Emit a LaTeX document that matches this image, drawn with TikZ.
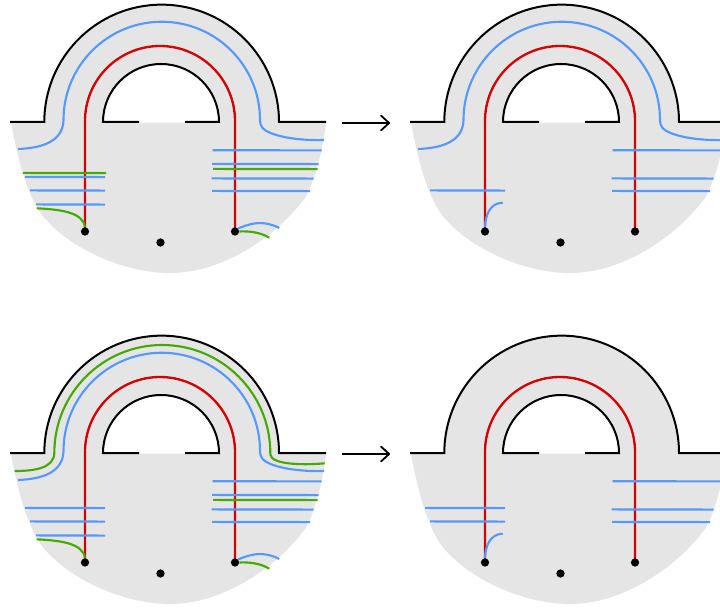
\documentclass[tikz,border=0pt]{standalone}
\usetikzlibrary{arrows.meta}
\definecolor{regiongray}{HTML}{E5E5E5}
\definecolor{strandblue}{HTML}{5599FF}
\definecolor{strandred}{HTML}{D40000}
\definecolor{strandgreen}{HTML}{44AA00}
\def\unitpx{0.75pt}
\tikzset{
  blackline/.style={draw=black,line width=1.5pt},
  redline/.style={draw=strandred,line width=1.75pt},
  blueline/.style={draw=strandblue,line width=1.6pt},
  greenline/.style={draw=strandgreen,line width=1.6pt},
  puncture/.style={circle,fill=black,inner sep=0pt,minimum size=6.2pt},
  movearrow/.style={draw=black,line width=1.35pt,-{Straight Barb[length=6pt,width=11pt,round]}}
}
% base surface, boundary, red arc, marked points
\newcommand{\basepanel}{%
  \fill[regiongray] (11,-122.7) .. controls (18,-160) and (27,-195) .. (42,-215)
    .. controls (65,-245) and (120,-273) .. (170,-273)
    .. controls (222,-273) and (275,-238) .. (305,-198)
    .. controls (315,-180) and (322,-155) .. (326,-122.7)
    -- (279,-122.7) arc[start angle=0,end angle=180,radius=117.5*\unitpx]
    -- (103,-122.7) arc[start angle=180,end angle=0,radius=58*\unitpx] -- cycle;
  \draw[blackline] (10,-122) -- (44.3,-122) arc[start angle=180,end angle=0,radius=117.35*\unitpx] -- (326,-122);
  \draw[blackline] (139,-122) -- (103,-122) arc[start angle=180,end angle=0,radius=58*\unitpx] -- (185,-122);
  \draw[redline] (85,-231) -- (85,-121) arc[start angle=180,end angle=0,radius=75*\unitpx] -- (235,-231);
  \node[puncture] (p1) at (85,-231.5) {};
  \node[puncture] (p2) at (160.5,-242.5) {};
  \node[puncture] (p3) at (235,-231.5) {};
}
\newcommand{\bluearch}{%
  \draw[blueline] (18,-149) .. controls (45,-148) and (63,-140) .. (63.5,-120)
    arc[start angle=180,end angle=0,radius=98.25*\unitpx]
    -- (260.5,-124) .. controls (262,-135) and (295,-141) .. (324,-140);
}
\newcommand{\greenarch}{%
  \draw[greenline] (14.7,-140) .. controls (35,-140) and (54,-137) .. (54.3,-122)
    arc[start angle=180,end angle=0,radius=108*\unitpx]
    -- (270.5,-124) .. controls (272,-133) and (300,-134.5) .. (324.7,-132.3);
}
% very slight slope keeps the rasteriser from snapping these lines to one pixel
\newcommand{\bluehl}[3]{\draw[blueline] (#1,-#3+0.08) -- (#2,-#3-0.08);}
\newcommand{\greenhl}[3]{\draw[greenline] (#1,-#3+0.08) -- (#2,-#3-0.08);}
\newcommand{\rightfan}{%
  \bluehl{212.7}{321.7}{150.3}
  \bluehl{211.5}{313.5}{178.5}
  \bluehl{212}{310}{191}
}
\newcommand{\rightpair}{%
  \bluehl{212}{318.5}{164}
  \greenhl{213}{317.5}{169}
}
\newcommand{\cornerstrands}{%
  \draw[greenline] (36.7,-208.3) .. controls (60,-209.5) and (83,-212) .. (p1.north);
  \draw[blueline] (p3.north east) .. controls (245,-226) and (260,-218) .. (279.3,-228);
  \draw[greenline] (p3.east) .. controls (248,-231) and (260,-232) .. (269.3,-237.7);
}
\newcommand{\bluehook}{%
  \draw[blueline] (p1.north) .. controls (85.5,-215) and (90,-203) .. (102.7,-202.7);
}
\begin{document}
\begin{tikzpicture}[x=\unitpx,y=\unitpx]
\useasboundingbox (0,0) rectangle (720,-609);
\clip (0,0) rectangle (720,-609);
% top left
\begin{scope}
  \basepanel \bluearch
  \bluehl{25}{105}{177}
  \bluehl{30}{105}{190.5}
  \bluehl{36}{105}{204.5}
  \greenhl{23}{106}{173}
  \rightfan \rightpair \cornerstrands
\end{scope}
% top right
\begin{scope}[shift={(400,0)}]
  \basepanel \bluearch
  \bluehl{30}{105}{190.5}
  \rightfan \bluehook
\end{scope}
% bottom left
\begin{scope}[shift={(0,-331)}]
  \basepanel \bluearch \greenarch
  \bluehl{25}{105}{177}
  \bluehl{30}{105}{190.5}
  \bluehl{36}{105}{204.5}
  \rightfan \rightpair \cornerstrands
\end{scope}
% bottom right
\begin{scope}[shift={(400,-331)}]
  \basepanel
  \bluehl{25}{105}{177}
  \bluehl{30}{105}{190.5}
  \rightfan \bluehook
\end{scope}
\coordinate (a1s) at (342,-123);
\coordinate (a1e) at (390,-123);
\coordinate (a2s) at (342,-454);
\coordinate (a2e) at (390,-454);
\draw[movearrow] (a1s) -- (a1e);
\draw[movearrow] (a2s) -- (a2e);
\end{tikzpicture}
\end{document}
